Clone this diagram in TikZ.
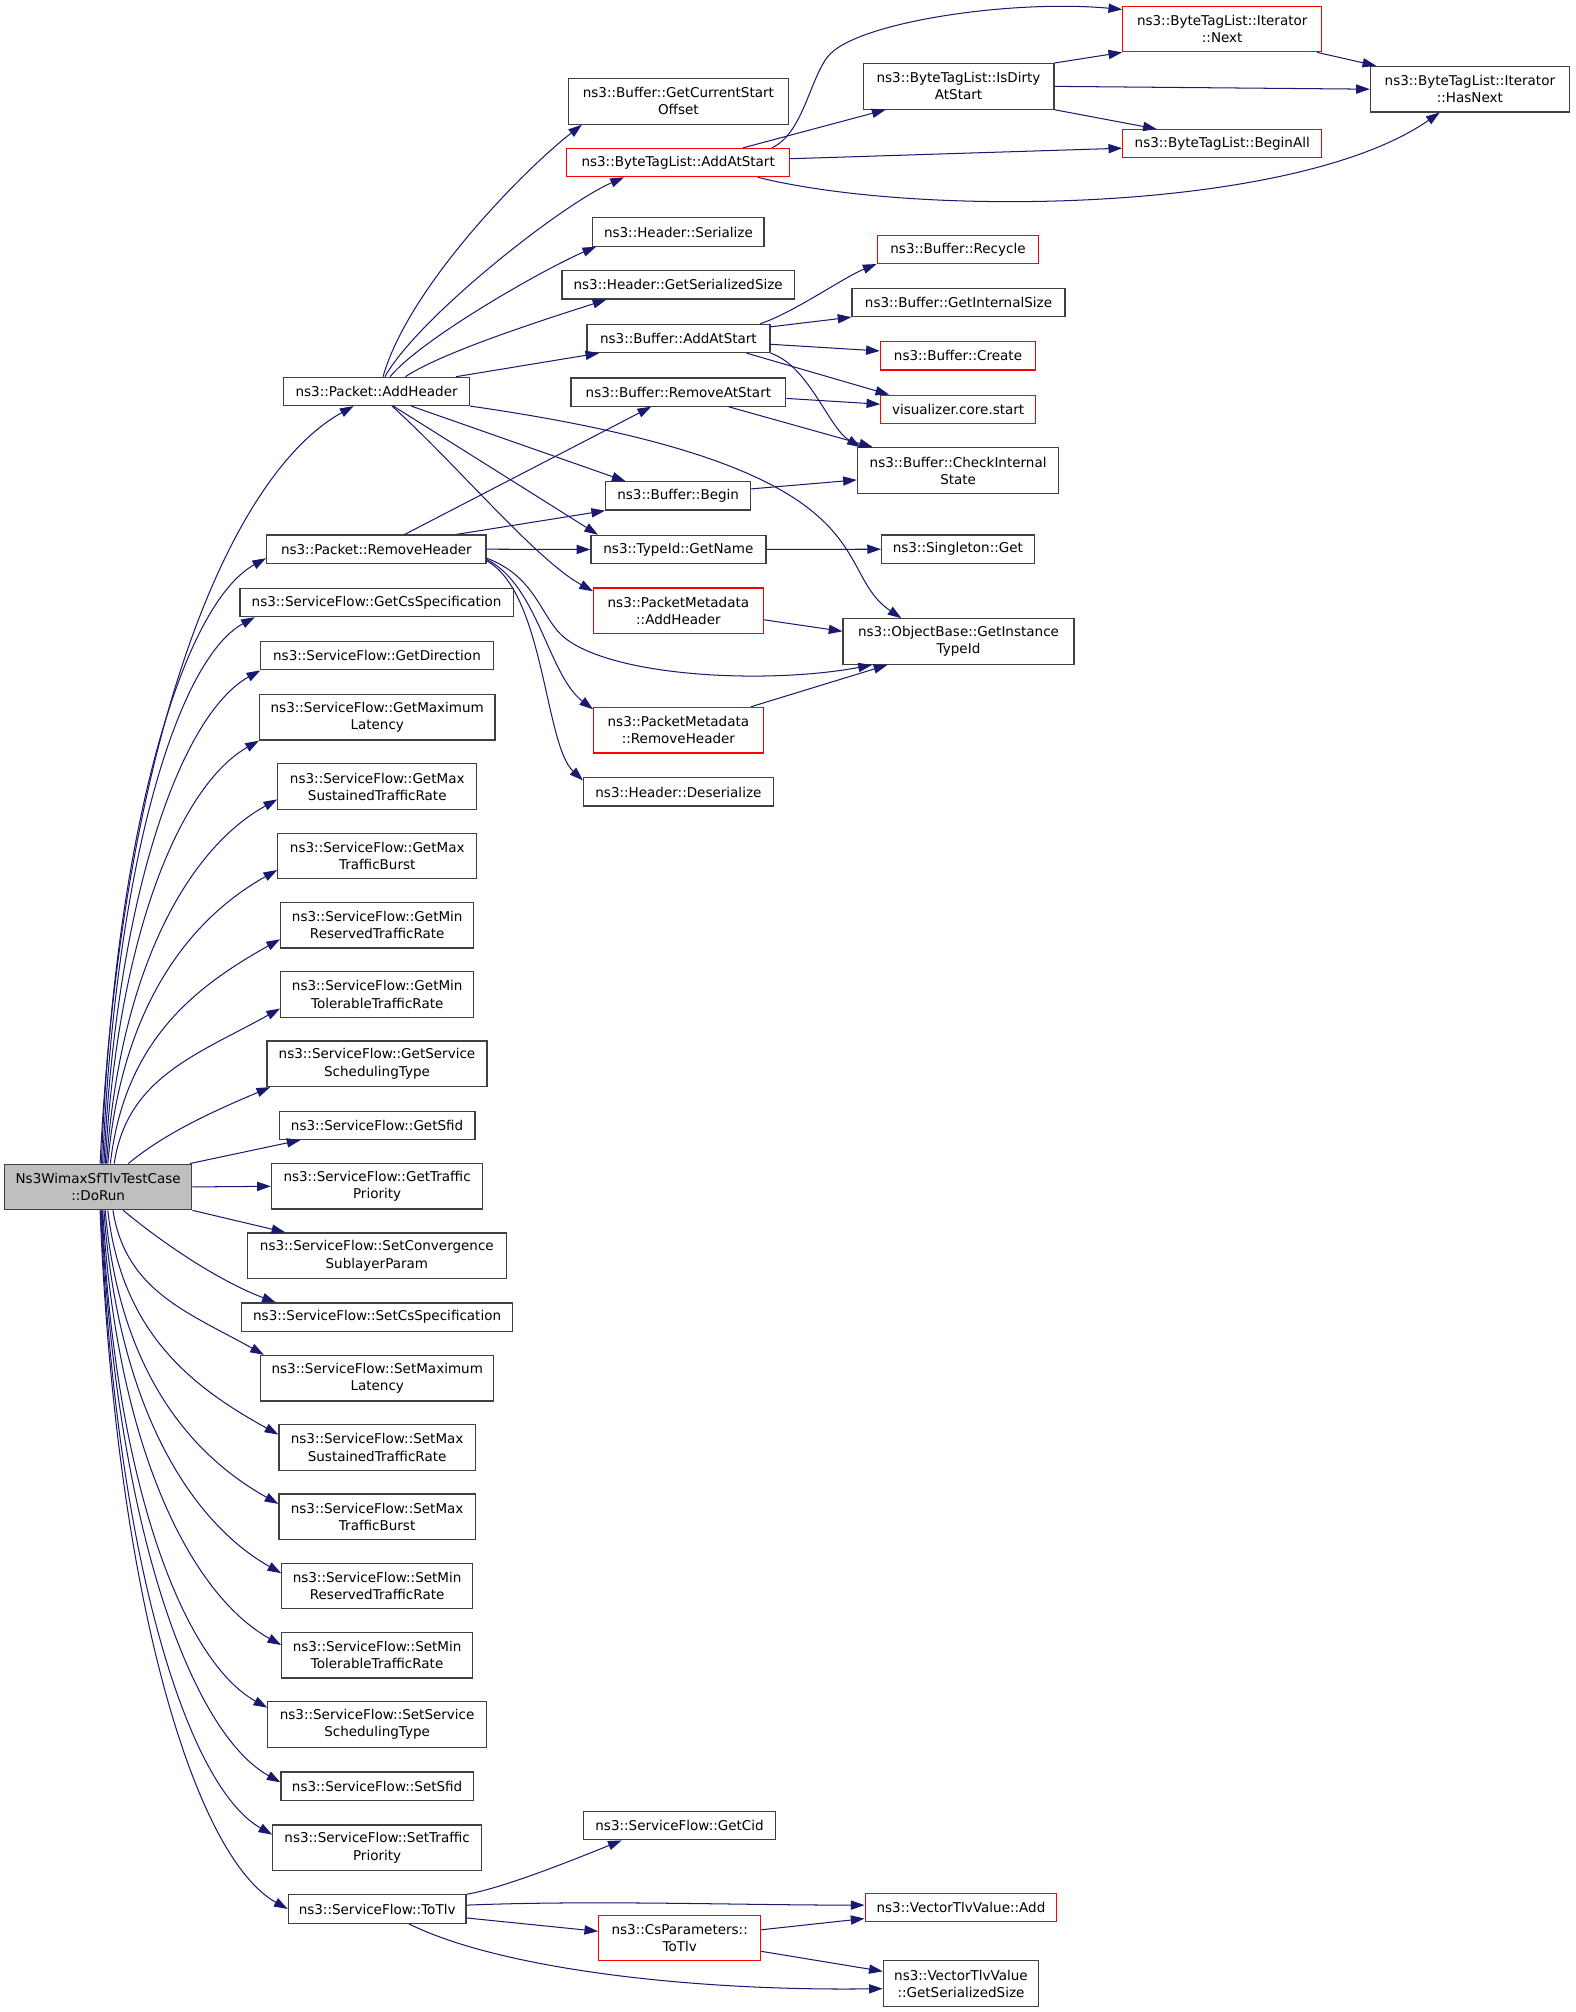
\documentclass[tikz,border=0pt]{standalone}
\usepackage{fontspec}
\newfontfamily\dvfont{DejaVu Sans}
\usepackage{xcolor}
\usepackage{tikz}
\usetikzlibrary{arrows.meta,
                calc,
                positioning}
\definecolor{edgeblue}{HTML}{191970}
\definecolor{boxgrey}{HTML}{404040}
\definecolor{boxred}{HTML}{FF0000}
\definecolor{rootfill}{HTML}{BFBFBF}
\tikzset{fn/.style={draw=boxgrey, line width=0.7pt, inner sep=0pt, align=center,
                    font=\dvfont\fontsize{7.9}{10}\selectfont},
         call/.style={draw=edgeblue, line width=0.6pt, -{Triangle[length=8pt,width=5.4pt]}}}

\begin{document}
\begin{tikzpicture}[x=0.75pt,y=-0.75pt]
\useasboundingbox (0,0) rectangle (1228,1568);

\node[fn, fill=rootfill, minimum width=146*0.75pt, minimum height=35.5*0.75pt] (dorun) at (76.5,925) {Ns3WimaxSfTlvTestCase\\::DoRun};

\foreach \nm/\x/\y/\w/\t in {addh/293.5/305/145/{ns3::Packet::AddHeader},
    remh/293.3/428/171/{ns3::Packet::RemoveHeader},
    gcs/293.5/469.5/213/{ns3::ServiceFlow::GetCsSpecification},
    gdir/293.8/511/181/{ns3::ServiceFlow::GetDirection},
    gsfid/293.9/877/152.5/{ns3::ServiceFlow::GetSfid},
    scs/293.9/1026.5/211/{ns3::ServiceFlow::SetCsSpecification},
    ssfid/293.9/1392/149.7/{ns3::ServiceFlow::SetSfid},
    totlv/293.9/1487.7/138.5/{ns3::ServiceFlow::ToTlv},
    hser/528.7/180.8/133.3/{ns3::Header::Serialize},
    hgss/528.5/222/181/{ns3::Header::GetSerializedSize},
    badd/528.7/263.7/142.6/{ns3::Buffer::AddAtStart},
    brem/528.7/305.5/167.5/{ns3::Buffer::RemoveAtStart},
    bbeg/528.5/386.5/113/{ns3::Buffer::Begin},
    tgn/528.7/428.2/136.4/{ns3::TypeId::GetName},
    hdes/528.7/617.2/147.8/{ns3::Header::Deserialize},
    gcid/529.6/1422.8/149.3/{ns3::ServiceFlow::GetCid},
    gis/747/235.7/166/{ns3::Buffer::GetInternalSize},
    sget/746.5/428/119/{ns3::Singleton::Get}}
  \node[fn, minimum width=\w*0.75pt, minimum height=22*0.75pt] (\nm) at (\x,\y) {\t};

\foreach \nm/\x/\y/\w/\t in {gmaxl/294/559/183.4/{ns3::ServiceFlow::GetMaximum\\Latency},
    gmaxs/294/613/155/{ns3::ServiceFlow::GetMax\\SustainedTrafficRate},
    gmaxb/294/667/155/{ns3::ServiceFlow::GetMax\\TrafficBurst},
    gminr/294/721/150.6/{ns3::ServiceFlow::GetMin\\ReservedTrafficRate},
    gmint/294/775/150.6/{ns3::ServiceFlow::GetMin\\TolerableTrafficRate},
    gserv/293.8/829/171.5/{ns3::ServiceFlow::GetService\\SchedulingType},
    gtraf/293.9/924.5/164.7/{ns3::ServiceFlow::GetTraffic\\Priority},
    sconv/293.7/978.6/201.8/{ns3::ServiceFlow::SetConvergence\\SublayerParam},
    smaxl/294/1074/181.8/{ns3::ServiceFlow::SetMaximum\\Latency},
    smaxs/293.9/1128/153/{ns3::ServiceFlow::SetMax\\SustainedTrafficRate},
    smaxb/293.9/1182/153/{ns3::ServiceFlow::SetMax\\TrafficBurst},
    sminr/293.9/1236/148.6/{ns3::ServiceFlow::SetMin\\ReservedTrafficRate},
    smint/293.9/1290/148.6/{ns3::ServiceFlow::SetMin\\TolerableTrafficRate},
    sserv/293.9/1344/170.3/{ns3::ServiceFlow::SetService\\SchedulingType},
    straf/293.9/1440/162.5/{ns3::ServiceFlow::SetTraffic\\Priority},
    gcso/528.7/79/171.5/{ns3::Buffer::GetCurrentStart\\Offset},
    isdirty/747/67.3/148.7/{ns3::ByteTagList::IsDirty\\AtStart},
    hasnext/1145.5/69.5/155/{ns3::ByteTagList::Iterator\\::HasNext},
    bcis/746.7/366.7/157/{ns3::Buffer::CheckInternal\\State},
    obgit/747/500/180/{ns3::ObjectBase::GetInstance\\TypeId},
    vtgss/748.9/1545.8/121/{ns3::VectorTlvValue\\::GetSerializedSize}}
  \node[fn, minimum width=\w*0.75pt, minimum height=35.5*0.75pt] (\nm) at (\x,\y) {\t};

\foreach \nm/\x/\y/\w/\t in {btadd/528.5/126.7/173.5/{ns3::ByteTagList::AddAtStart},
    beginall/952.5/112/155/{ns3::ByteTagList::BeginAll},
    recyc/746.6/194.3/126/{ns3::Buffer::Recycle},
    create/746.6/277.3/121/{ns3::Buffer::Create},
    viscs/746.7/319/120.5/{visualizer.core.start},
    vtadd/748.9/1486.7/149.4/{ns3::VectorTlvValue::Add}}
  \node[fn, draw=boxred, minimum width=\w*0.75pt, minimum height=22*0.75pt] (\nm) at (\x,\y) {\t};

\foreach \nm/\x/\y/\w/\t in {itnext/952.5/22.6/155/{ns3::ByteTagList::Iterator\\::Next},
    pmadd/528.7/476/132.2/{ns3::PacketMetadata\\::AddHeader},
    pmrem/528.7/569/132.2/{ns3::PacketMetadata\\::RemoveHeader},
    cstlv/529.7/1510.4/126.2/{ns3::CsParameters::\\ToTlv}}
  \node[fn, draw=boxred, minimum width=\w*0.75pt, minimum height=35.5*0.75pt] (\nm) at (\x,\y) {\t};

% calls of DoRun
\foreach \nm/\s/\an/\ox/\oy/\ax/\ay/\bx/\by in {addh/1.5/south west/55/0/16/-325/-99/55,
    remh/2.5/west/0/7/10/-260/-65/36,
    gcs/3.5/south west/12/0/10/-235/-60/33,
    gdir/4.5/south west/0/0/10/-212/-61/34,
    gmaxl/5.5/south west/0/0/10/-182/-60/34,
    gmaxs/6.5/west/0/10/11/-156/-67/37,
    gmaxb/7.5/west/0/11/11/-126/-66/37,
    gminr/9.5/west/0/11/11/-96/-66/37,
    gmint/12.5/west/0/11/10/-67/-65/36,
    gserv/23.5/south west/3/0/30/-25/-40/17}
  \draw[call] ($(dorun.north)+(\s,0)$) .. controls +(\ax,\ay) and +(\bx,\by) .. ($(\nm.\an)+(\ox,\oy)$);

\foreach \nm/\s/\an/\ox/\oy/\ax/\ay/\bx/\by in {scs/19.5/north west/27/0/30/25/-45/-17,
    smaxl/11.5/north west/3/0/10/63/-59/-33,
    smaxs/7.5/west/0/-10/11/96/-67/-37,
    smaxb/5.5/west/0/-10/11/126/-68/-38,
    sminr/4.5/west/0/-10/11/156/-69/-39,
    smint/3.5/west/0/-8/11/186/-70/-39,
    sserv/3/north west/0/5/10/214/-65/-36,
    ssfid/2.5/west/0/-3/11/245/-70/-39,
    straf/2/north west/0/8/11/268/-67/-38,
    totlv/1.5/west/0/0/12/300/-73/-41}
  \draw[call] ($(dorun.south)+(\s,0)$) .. controls +(\ax,\ay) and +(\bx,\by) .. ($(\nm.\an)+(\ox,\oy)$);

\draw[call] ($(dorun.north east)+(-2,0)$) -- ($(gsfid.south west)+(17,0)$);
\draw[call] (dorun.east) -- (gtraf.west);
\draw[call] (dorun.south east) -- ($(sconv.north west)+(30,0)$);

% AddHeader
\draw[call] ($(addh.north)+(5,0)$) .. controls +(20,-70) and +(-45,35) .. ($(gcso.south west)+(11,0)$);
\draw[call] ($(addh.north)+(6.5,0)$) .. controls +(25,-45) and +(-50,22) .. ($(btadd.south west)+(45,0)$);
\draw[call] ($(addh.north)+(10.5,0)$) .. controls +(25,-30) and +(-40,17) .. ($(hser.south west)+(3,0)$);
\draw[call] ($(addh.north)+(22.5,0)$) .. controls +(30,-20) and +(-40,13) .. ($(hgss.south west)+(35,0)$);
\draw[call] ($(addh.north)+(62,0)$) -- ($(badd.south west)+(10,0)$);
\draw[call] (addh.south east) .. controls +(334,48) and +(-58,-39) .. ($(obgit.north west)+(46,0)$);
\draw[call] ($(addh.south)+(27,0)$) -- ($(bbeg.north west)+(16,0)$);
\draw[call] ($(addh.south)+(13,0)$) -- ($(tgn.north west)+(6,0)$);
\draw[call] ($(addh.south)+(12,0)$) .. controls +(50,45) and +(-45,-25) .. ($(pmadd.north west)+(0,3)$);

% RemoveHeader
\draw[call] ($(remh.north)+(22,0)$) -- ($(brem.south west)+(63,0)$);
\draw[call] ($(remh.north)+(62,0)$) -- (bbeg.south west);
\draw[call] (remh.east) -- (tgn.west);
\draw[call] ($(remh.east)+(0,7)$) .. controls +(40,15) and +(-20,-15) .. ($(remh.east)+(62,70)$)
            .. controls +(40,30) and +(-80,15) .. ($(obgit.south west)+(23,0)$);
\draw[call] ($(remh.east)+(0,8)$) .. controls +(40,20) and +(-35,-27) .. ($(pmrem.north west)+(0,2)$);
\draw[call] ($(remh.east)+(0,9)$) .. controls +(45,25) and +(-30,-28) .. ($(hdes.west)+(0,-9)$);

% ByteTagList
\draw[call] ($(btadd.north)+(50.5,0)$) -- ($(isdirty.south west)+(18,0)$);
\draw[call] ($(btadd.north)+(73,0)$) .. controls +(24,-11) and +(-14,18) .. ($(btadd.north)+(116.5,-71)$)
            .. controls +(21,-27) and +(-86,-8) .. ($(itnext.north west)+(0,3)$);
\draw[call] ($(btadd.east)+(0,-3)$) -- ($(beginall.west)+(0,3.5)$);
\draw[call] ($(btadd.south)+(62,0)$) .. controls +(129,32) and +(-112,78) .. ($(hasnext.south)+(-23.5,0)$);
\draw[call] (isdirty.north east) -- (itnext.south west);
\draw[call] (isdirty.east) -- (hasnext.west);
\draw[call] (isdirty.south east) -- ($(beginall.north west)+(27,0)$);
\draw[call] ($(itnext.south east)+(-4,0)$) -- ($(hasnext.north west)+(5,0)$);

% Buffer
\draw[call] ($(badd.north east)+(-8,0)$) .. controls +(25,-8) and +(-25,10) .. (recyc.south west);
\draw[call] ($(badd.east)+(0,-9)$) -- (gis.south west);
\draw[call] ($(badd.east)+(0,4.6)$) -- ($(create.west)+(0,-3.8)$);
\draw[call] ($(badd.south)+(53,0)$) -- ($(viscs.north west)+(7,0)$);
\draw[call] (badd.south east) .. controls +(30,10) and +(-25,-15) .. ($(bcis.north west)+(3,0)$);
\draw[call] ($(brem.east)+(0,5)$) -- ($(viscs.west)+(0,-4)$);
\draw[call] ($(brem.south)+(39,0)$) -- ($(bcis.north west)+(12.5,0)$);
\draw[call] ($(bbeg.east)+(0,-5.5)$) -- ($(bcis.west)+(0,7.3)$);
\draw[call] (tgn.east) -- (sget.west);
\draw[call] ($(pmadd.east)+(0,7)$) -- ($(obgit.west)+(0,-8)$);
\draw[call] ($(pmrem.north east)+(-10,0)$) -- ($(obgit.south west)+(35,0)$);

% ToTlv
\draw[call] (totlv.north east) .. controls +(30,-5) and +(-30,12) .. ($(gcid.south west)+(30,0)$);
\draw[call] ($(totlv.east)+(0,-3)$) .. controls +(100,-4) and +(-100,0) .. ($(vtadd.west)+(0,-2)$);
\draw[call] ($(totlv.east)+(0,7)$) -- ($(cstlv.west)+(0,-5.3)$);
\draw[call] ($(totlv.south)+(24.5,0)$) .. controls +(70,35) and +(-150,2) .. ($(vtgss.west)+(0,4)$);
\draw[call] ($(cstlv.east)+(0,-6.5)$) -- ($(vtadd.south west)+(0,-3)$);
\draw[call] ($(cstlv.east)+(0,10.3)$) -- ($(vtgss.west)+(0,-9.5)$);
\end{tikzpicture}
\end{document}
